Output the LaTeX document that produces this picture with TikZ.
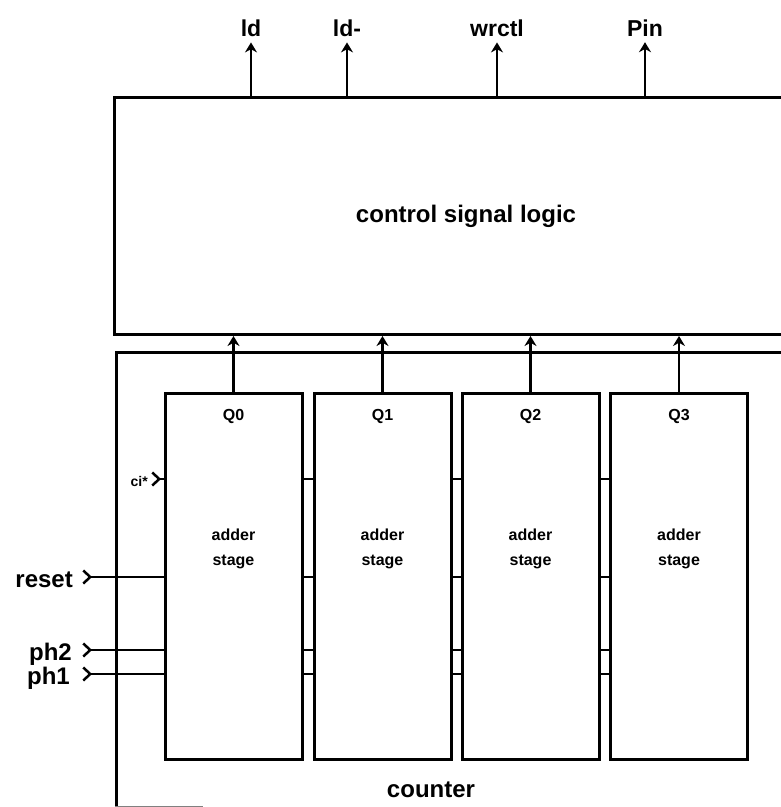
\documentclass[tikz,border=0pt]{standalone}
\usepackage{fontspec}
\setmainfont{Liberation Sans}
\usetikzlibrary{arrows.meta, positioning}

\begin{document}
\begin{tikzpicture}[
        x=1pt, y=-1pt,
        blk/.style={draw, line width=3pt, inner sep=0pt},
        stage/.style={blk, minimum width=137pt, minimum height=366pt},
        sig/.style={font=\bfseries\fontsize{23}{25}\selectfont, inner sep=1pt},
        qlbl/.style={font=\bfseries\fontsize{16}{18}\selectfont, inner sep=0pt},
        stagetxt/.style={font=\bfseries\fontsize{16}{25}\selectfont, align=center, inner sep=0pt},
        title/.style={font=\bfseries\fontsize{24}{26}\selectfont, inner sep=0pt},
        wire/.style={line width=2.5pt},
        up/.style={wire, -{Stealth[length=10pt, width=12pt]}},
        inp/.style={wire, {Straight Barb[reversed, length=7pt, width=13pt]}-}
    ]
        \clip (0,0) rectangle (781,807);

        % control block and counter frame (both run off the right edge)
        \node[blk, anchor=north west, minimum width=760pt, minimum height=237pt] (ctrl) at (113,96) {};
        \node[title] (ctrltxt) at (466,216) {control signal logic};
        \node[blk, anchor=north west, minimum width=760pt, minimum height=520pt] (cnt) at (115,351) {};
        \node[title] (cnttxt) at (431,790) {counter};
        \draw[gray, line width=1pt] (115,806) -- (203,806);

        % outputs
        \foreach \n/\x/\t in {ld/251/ld, ldn/347/ld-, wrctl/497/wrctl, pin/645/Pin} {
            \node[sig, anchor=base] (\n) at (\x,36) {\t};
            \draw[up, shorten >=5pt] (ctrl.north -| \n) -- (\n.south);
        }

        % adder stages
        \foreach \i/\x in {0/233.5, 1/382.5, 2/530.5, 3/679} {
            \node[stage] (q\i) at (\x,576) {};
            \node[qlbl] (q\i lbl) at (\x,416) {Q\i};
            \node[stagetxt] (q\i txt) at (\x,549) {adder\\stage};
            \draw[up] (q\i.north) -- (q\i.north |- ctrl.south);
        }

        % links between stages
        \foreach \a/\b in {q0/q1, q1/q2, q2/q3}
            \foreach \y in {479, 577, 650, 674}
                \draw[wire] (\a.east |- 0,\y) -- (\b.west |- 0,\y);

        % inputs
        \node[font=\bfseries\fontsize{14}{15}\selectfont, inner sep=0pt, anchor=east] (ci) at (148,481) {ci*};
        \coordinate (ciin) at (151,479);
        \draw[inp] (ciin) -- (ciin -| q0.west);

        \node[title, anchor=east] (reset) at (73,580) {reset};
        \node[title, anchor=east] (ph2) at (72,654) {ph2};
        \node[title, anchor=east] (ph1) at (70,678) {ph1};
        \coordinate (resetin) at (82,577);
        \coordinate (ph2in) at (82,650);
        \coordinate (ph1in) at (82,674);
        \draw[inp] (resetin) -- (resetin -| q0.west);
        \draw[inp] (ph2in) -- (ph2in -| q0.west);
        \draw[inp] (ph1in) -- (ph1in -| q0.west);
    \end{tikzpicture}
\end{document}
